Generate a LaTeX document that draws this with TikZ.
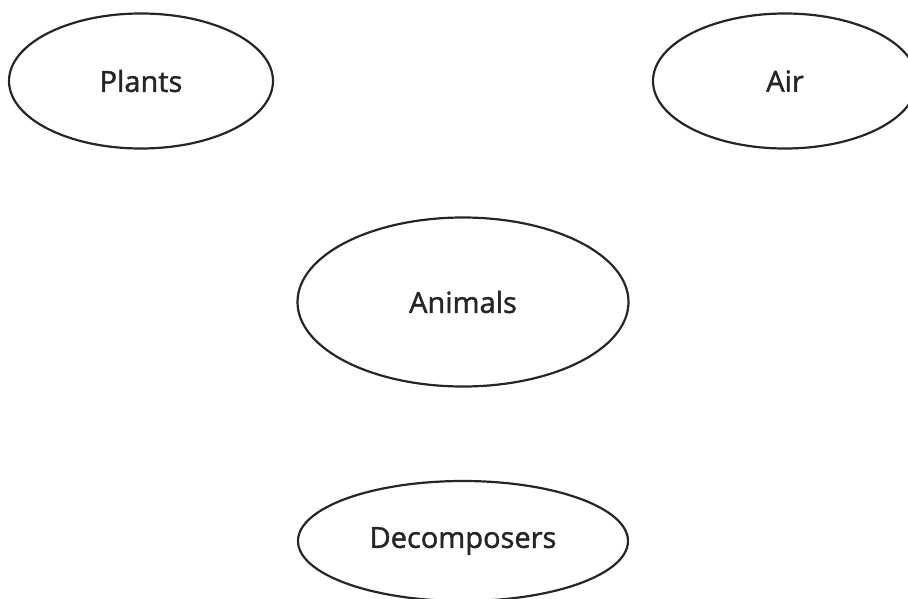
\documentclass[tikz,border=0pt]{standalone}
\usepackage{fontspec}
\setmainfont{Open Sans}[RawFeature={embolden=1.5}]
\usetikzlibrary{shapes.geometric}
\begin{document}
\begin{tikzpicture}[x=1pt,y=-1pt,
  oval/.style={draw=black!85,line width=2.2pt,ellipse,inner sep=0pt,font=\fontsize{29}{34}\selectfont,text=black!85}]
\useasboundingbox (0,0) rectangle (908,599);
\begin{scope}
\clip (0,0) rectangle (908,599);
\node[oval,minimum width=264pt,minimum height=135pt] (plants) at (141,81) {Plants};
\node[oval,minimum width=264pt,minimum height=135pt] (air) at (785,81) {Air};
\node[oval,minimum width=331pt,minimum height=169pt] (animals) at (463,302) {Animals};
\node[oval,minimum width=330pt,minimum height=120pt] (decomp) at (463,541) {Decomposers};
\end{scope}
\end{tikzpicture}
\end{document}
